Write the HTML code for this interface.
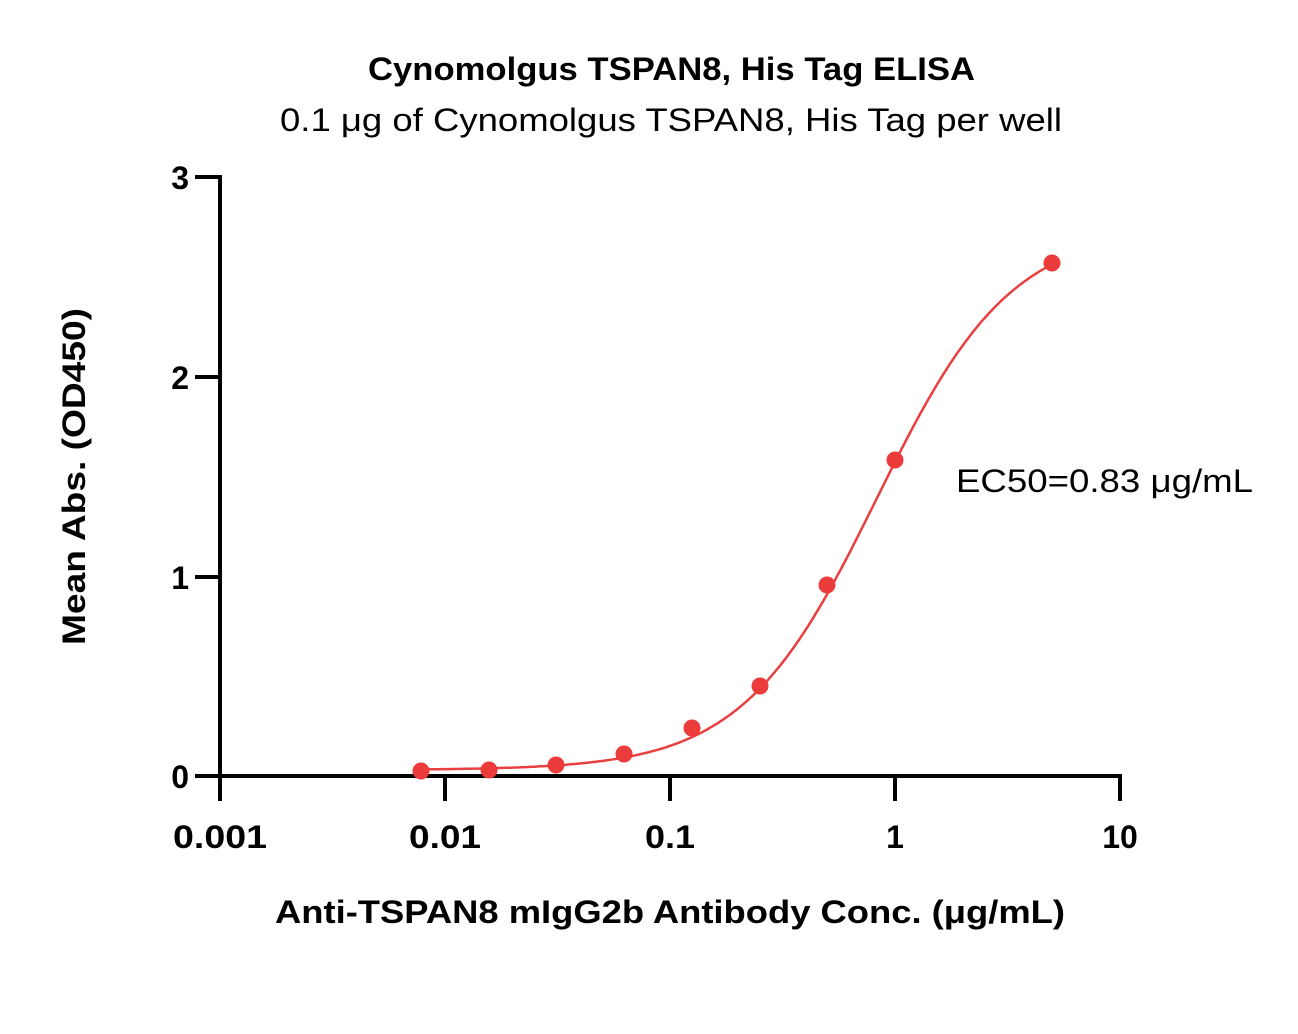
<!DOCTYPE html>
<html><head><meta charset="utf-8"><style>
body{margin:0;background:#fff;}
svg text{font-family:"Liberation Sans",sans-serif;}
</style></head><body>
<svg id="s" width="1298" height="1029" viewBox="0 0 1298 1029" xmlns="http://www.w3.org/2000/svg">
<rect width="1298" height="1029" fill="#fff"/>
<text x="368" y="80" font-size="32" font-weight="bold" textLength="607" lengthAdjust="spacingAndGlyphs">Cynomolgus TSPAN8, His Tag ELISA</text>
<text x="280" y="131" font-size="32" textLength="782" lengthAdjust="spacingAndGlyphs">0.1 μg of Cynomolgus TSPAN8, His Tag per well</text>
<g stroke="#000" stroke-width="4" fill="none">
<line x1="220" y1="175" x2="220" y2="778"/>
<line x1="218" y1="776" x2="1122" y2="776"/>
<line x1="195" y1="177" x2="220" y2="177"/>
<line x1="195" y1="377" x2="220" y2="377"/>
<line x1="195" y1="577" x2="220" y2="577"/>
<line x1="195" y1="776" x2="220" y2="776"/>
<line x1="220" y1="776" x2="220" y2="801"/>
<line x1="445" y1="776" x2="445" y2="801"/>
<line x1="670" y1="776" x2="670" y2="801"/>
<line x1="895" y1="776" x2="895" y2="801"/>
<line x1="1120" y1="776" x2="1120" y2="801"/>
</g>
<g font-size="32" font-weight="bold" text-anchor="end">
<text x="189" y="189">3</text><text x="189" y="389">2</text><text x="189" y="589">1</text><text x="189" y="788">0</text>
</g>
<g font-size="32" font-weight="bold">
<text x="173" y="848" textLength="94" lengthAdjust="spacingAndGlyphs">0.001</text>
<text x="409" y="848" textLength="72" lengthAdjust="spacingAndGlyphs">0.01</text>
<text x="645" y="848" textLength="50" lengthAdjust="spacingAndGlyphs">0.1</text>
<text x="895" y="848" text-anchor="middle">1</text>
<text x="1120" y="848" text-anchor="middle">10</text>
</g>
<text x="275" y="923" font-size="32" font-weight="bold" textLength="790" lengthAdjust="spacingAndGlyphs">Anti-TSPAN8 mIgG2b Antibody Conc. (μg/mL)</text>
<text transform="translate(85,645) rotate(-90)" font-size="32" font-weight="bold" textLength="337" lengthAdjust="spacingAndGlyphs">Mean Abs. (OD450)</text>
<text x="956" y="492" font-size="32" textLength="297" lengthAdjust="spacingAndGlyphs">EC50=0.83 μg/mL</text>
<path id="c" fill="none" stroke="#e8403f" stroke-width="2.5"/>
<g fill="#ec3b3b">
<circle cx="421" cy="771" r="8.5"/><circle cx="489" cy="770" r="8.5"/><circle cx="556" cy="765" r="8.5"/><circle cx="624" cy="754" r="8.5"/><circle cx="692" cy="728" r="8.5"/><circle cx="760" cy="686" r="8.5"/><circle cx="827" cy="585" r="8.5"/><circle cx="895" cy="460" r="8.5"/><circle cx="1052" cy="263" r="8.5"/>
</g>
</svg>
<script>
var d="";for(var i=0;i<=200;i++){var lx=Math.log10(0.0078)+(Math.log10(5)-Math.log10(0.0078))*i/200;var x=Math.pow(10,lx);var r=Math.pow(x/0.83,1.45);var y=0.03+2.72*r/(1+r);var px=220+(lx+3)*225,py=776-y*199.7;d+=(i?"L":"M")+px.toFixed(1)+" "+py.toFixed(1);}
document.getElementById("c").setAttribute("d",d);
</script>
</body></html>
